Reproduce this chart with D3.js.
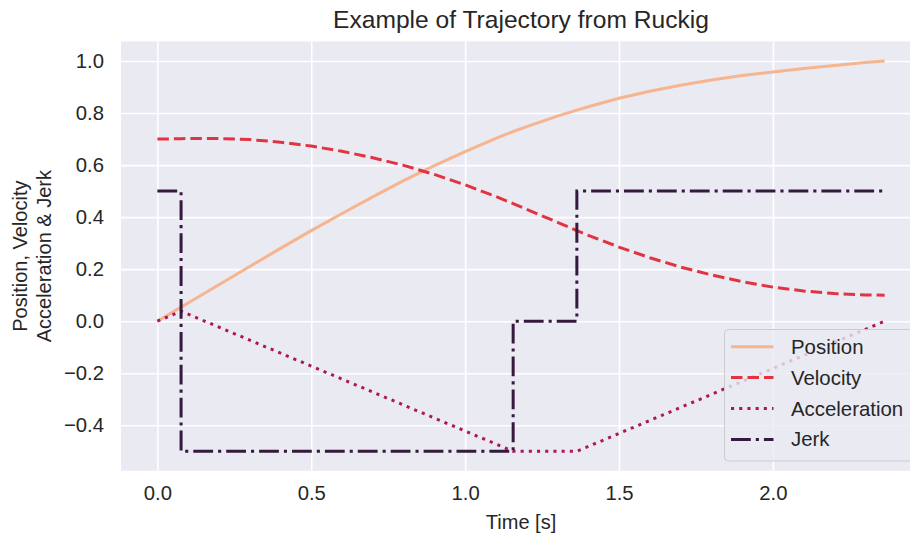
<!DOCTYPE html>
<html>
<head>
<meta charset="utf-8">
<script src="https://cdn.jsdelivr.net/npm/d3@7"></script>
<style>
  body { margin: 0; background: #fff; }
  svg { display: block; font-family: "Liberation Sans", Arial, sans-serif; }
</style>
</head>
<body>
<div id="chart"></div>
<script>
const width = 910;
const height = 534;

// plot box (right side runs past the picture edge, like the reference)
const margin = { top: 41.5, left: 121, bottom: 534 - 470.8, right: 910 - 921 };

// data
const time = [0, 0.077, 0.1, 0.2, 0.3, 0.4, 0.5, 0.6, 0.7, 0.8, 0.9, 1.0, 1.1, 1.156, 1.2, 1.3, 1.363,
  1.4, 1.5, 1.6, 1.7, 1.8, 1.9, 2.0, 2.1, 2.2, 2.3, 2.363];
const position = [0, 0.054, 0.070, 0.140, 0.210, 0.280, 0.348, 0.414, 0.478, 0.540, 0.598, 0.652, 0.703, 0.729,
  0.748, 0.788, 0.811, 0.824, 0.857, 0.884, 0.907, 0.927, 0.944, 0.958, 0.971, 0.983, 0.994, 1.0];
const velocity = [0.700, 0.7015, 0.702, 0.702, 0.698, 0.688, 0.673, 0.653, 0.628, 0.599, 0.564, 0.524, 0.479, 0.452,
  0.430, 0.380, 0.348, 0.330, 0.285, 0.244, 0.208, 0.178, 0.152, 0.131, 0.116, 0.106, 0.101, 0.100];
const accTime = [0, 0.077, 1.156, 1.363, 2.363];
const acceleration = [0, 0.0385, -0.5, -0.5, 0];
const jerkTime = [0, 0.077, 1.156, 1.363, 2.363];
const jerk = [0.5, -0.5, 0, 0.5, 0.5];

const xTicks = [0, 0.5, 1.0, 1.5, 2.0];
const yTicks = [-0.4, -0.2, 0, 0.2, 0.4, 0.6, 0.8, 1.0];
const seriesNames = ["Position", "Velocity", "Acceleration", "Jerk"];

const colors = { Position: "#f6b48f", Velocity: "#e13342", Acceleration: "#ad1759", Jerk: "#35193e" };
const dashes = { Position: null, Velocity: "11.5,5", Acceleration: "3.1,5.1", Jerk: "19.8,5,3.1,5" };

const series = [
  { name: "Position", pts: time.map((t, i) => [t, position[i]]) },
  { name: "Velocity", pts: time.map((t, i) => [t, velocity[i]]) },
  { name: "Acceleration", pts: accTime.map((t, i) => [t, acceleration[i]]) },
  { name: "Jerk", pts: jerkTime.map((t, i) => [t, jerk[i]]), step: true }
];

const innerW = width - margin.left - margin.right;
const innerH = height - margin.top - margin.bottom;

const xScale = d3.scaleLinear().domain([-0.1182, 2.4812]).range([0, innerW]);
const yScale = d3.scaleLinear().domain([-0.575, 1.075]).range([innerH, 0]);

const svg = d3.select("#chart").append("svg")
  .attr("width", width).attr("height", height);

const g = svg.append("g").attr("transform", `translate(${margin.left},${margin.top})`);

g.append("rect").attr("width", innerW).attr("height", innerH).attr("fill", "#eaeaf2");

// grid
const fmt = d => d3.format(".1f")(d).replace("-", "\u2212");

const xAxis = g.append("g")
  .attr("transform", `translate(0,${innerH})`)
  .call(d3.axisBottom(xScale).tickValues(xTicks).tickFormat(fmt).tickSize(-innerH).tickPadding(15));
const yAxis = g.append("g")
  .call(d3.axisLeft(yScale).tickValues(yTicks).tickFormat(fmt).tickSize(-innerW).tickPadding(17));

[xAxis, yAxis].forEach(ax => {
  ax.select(".domain").remove();
  ax.selectAll(".tick line").attr("stroke", "#ffffff").attr("stroke-width", 1.6);
  ax.selectAll(".tick text").attr("fill", "#262626").attr("font-size", 20.3);
});

// lines
const line = d3.line().x(d => xScale(d[0])).y(d => yScale(d[1]));
const stepLine = d3.line().x(d => xScale(d[0])).y(d => yScale(d[1])).curve(d3.curveStepAfter);

series.forEach(s => {
  g.append("path")
    .datum(s.pts)
    .attr("fill", "none")
    .attr("stroke", colors[s.name])
    .attr("stroke-width", 3)
    .attr("stroke-dasharray", dashes[s.name])
    .attr("d", s.step ? stepLine : line);
});

// title and labels
svg.append("text")
  .attr("x", margin.left + innerW / 2).attr("y", 28)
  .attr("text-anchor", "middle").attr("font-size", 24.6).attr("fill", "#262626")
  .text("Example of Trajectory from Ruckig");

svg.append("text")
  .attr("x", margin.left + innerW / 2).attr("y", 529)
  .attr("text-anchor", "middle").attr("font-size", 20).attr("fill", "#262626")
  .text("Time [s]");

const ylab = svg.append("text")
  .attr("transform", `translate(0,${margin.top + innerH / 2}) rotate(-90)`)
  .attr("text-anchor", "middle").attr("font-size", 20).attr("fill", "#262626");
ylab.append("tspan").attr("x", 0).attr("y", 26.5).text("Position, Velocity");
ylab.append("tspan").attr("x", 0).attr("y", 51).text("Acceleration & Jerk");

// legend
const legend = svg.append("g").attr("transform", "translate(724.5,329.5)");
legend.append("rect")
  .attr("width", 220).attr("height", 131.5).attr("rx", 4)
  .attr("fill", "rgba(234,234,242,0.8)").attr("stroke", "#cccccc").attr("stroke-width", 1);

seriesNames.forEach((name, i) => {
  const yy = 17.2 + i * 30.9;
  legend.append("line")
    .attr("x1", 6.5).attr("x2", 49).attr("y1", yy).attr("y2", yy)
    .attr("stroke", colors[name]).attr("stroke-width", 3)
    .attr("stroke-dasharray", dashes[name]);
  legend.append("text")
    .attr("x", 66.5).attr("y", yy + 7)
    .attr("font-size", 20.4).attr("fill", "#262626")
    .text(name);
});
</script>
</body>
</html>
